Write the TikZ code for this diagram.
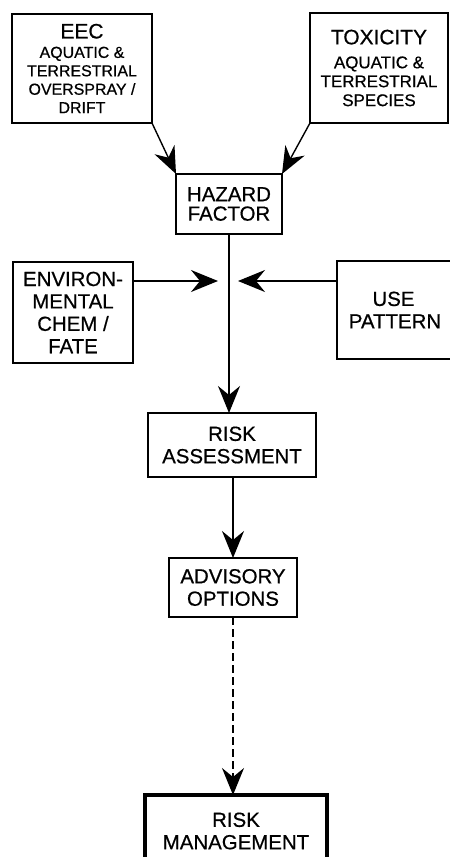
\documentclass[tikz,border=0pt]{standalone}
\usepackage{fontspec}
\setmainfont{Liberation Sans}[FakeBold=0.6]
\usetikzlibrary{arrows.meta}
\begin{document}
\begin{tikzpicture}[x=1bp,y=-1bp,
  box/.style={draw=black, line width=1.4bp, inner sep=0pt, outer sep=0pt, align=center,
    font=\fontsize{20.5}{22.5}\selectfont},
  smallbox/.style={box, font=\fontsize{16}{18.5}\selectfont},
  arr/.style={line width=1.4bp, -{Stealth[length=27bp, width=22bp, inset=9bp]}},
  dasharr/.style={arr, dash pattern=on 8bp off 4bp}]
\useasboundingbox (0,0) rectangle (450,857);
\clip (0,0) rectangle (450,857);
\node[smallbox, minimum width=140bp, minimum height=109bp] (eec) at (82,68.5)
  {{\fontsize{21}{21}\selectfont EEC}\\[1bp] AQUATIC \&\\ TERRESTRIAL\\ OVERSPRAY /\\ DRIFT};
\node[smallbox, minimum width=138bp, minimum height=110bp, font=\fontsize{17}{19}\selectfont] (tox) at (379,68)
  {{\fontsize{21}{21}\selectfont TOXICITY}\\[5bp] AQUATIC \&\\ TERRESTRIAL\\ SPECIES};
\node[box, minimum width=106bp, minimum height=60bp, font=\fontsize{20.5}{19.5}\selectfont] (haz) at (229,204) {HAZARD\\FACTOR};
\node[box, minimum width=120bp, minimum height=101bp] (env) at (73,312.5) {ENVIRON-\\MENTAL\\CHEM /\\FATE};
\node[box, minimum width=116bp, minimum height=98bp, anchor=west] (use) at (337,310) {\hspace*{-3bp}USE\\PATTERN};
\node[box, minimum width=168bp, minimum height=64bp] (risk) at (232,445) {RISK\\ASSESSMENT};
\node[box, minimum width=128bp, minimum height=59bp] (adv) at (233,587.5) {ADVISORY\\OPTIONS};
\node[box, line width=4bp, minimum width=182bp, minimum height=72bp] (mgmt) at (236,831) {RISK\\MANAGEMENT};
\coordinate (lt) at (218,281);
\coordinate (rt) at (238,281);
\draw[arr] (eec.south east) -- (haz.north west);
\draw[arr] (tox.south west) -- (haz.north east);
\draw[arr] (env.east |- lt) -- (lt);
\draw[arr] (use.west |- rt) -- (rt);
\draw[arr] (haz.south) -- (haz.south |- risk.north);
\draw[arr] (risk.south -| adv.north) -- (adv.north);
\draw[dasharr] (adv.south) -- (adv.south |- mgmt.north);
\end{tikzpicture}
\end{document}
